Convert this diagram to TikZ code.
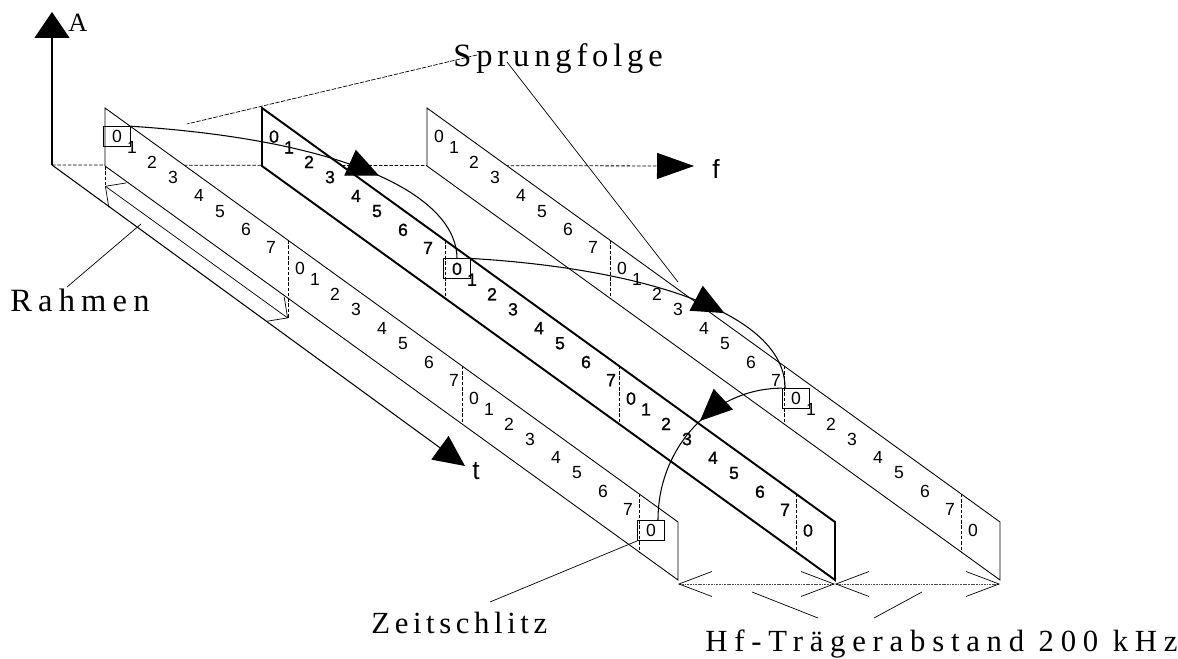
\documentclass[tikz,border=0pt]{standalone}
\usepackage{fontspec}
\setmainfont{Liberation Serif}
\newfontfamily\digitfont{Liberation Sans}
\newfontfamily\digitboldfont[FakeBold=1.2]{Liberation Sans}
\newcommand{\spacedat}[2]{\fontsize{#1}{20}\selectfont\addfontfeature{LetterSpace=#2}}
\usetikzlibrary{arrows.meta,calc,decorations.markings}

\tikzset{
	edge/.style={line width=0.5pt},
	edgebold/.style={line width=1.1pt},
	framesep/.style={line width=0.45pt, dash pattern=on 2pt off 1pt},
	digit/.style={font=\digitfont\fontsize{10}{12}\selectfont, inner sep=0pt},
	digitbold/.style={font=\digitboldfont\fontsize{10}{12}\selectfont, inner sep=0pt},
	slot/.style={draw, line width=0.5pt, inner sep=0pt, minimum width=0.54cm, minimum height=0.4cm},
	leader/.style={line width=0.4pt},
	axis/.style={line width=0.6pt},
	hop/.style={line width=0.6pt, postaction={decorate},
		decoration={markings, mark=at position #1 with {\arrow{Triangle[length=0.64cm,width=0.56cm]}}}},
	spaced/.style 2 args={font=\spacedat{#1}{#2}, inner sep=0pt, anchor=base west},
	barbs/.style={{Straight Barb[length=#1]}-{Straight Barb[length=#1]}},
	dimline/.style={leader, black!70, dash pattern=on 1pt off 0.5pt,
		{Straight Barb[length=0.66cm,width=0.5cm,black]}-{Straight Barb[length=0.66cm,width=0.5cm,black]}},
}

% one carrier strip: left x, name, edge style, digit style
\newcommand{\hopstrip}[4]{%
	\fill[white] (#1,108) -- ++(573,414) -- ++(0,58) -- (#1,166) -- cycle;
	\draw[#3] (#1,166) -- (#1,108) -- ++(573,414) -- ++(0,58) -- cycle;
	\foreach \fb/\fd [count=\fn] in {0/20,183/20,357/24}
		\foreach \du [count=\dn from 0] in {12,27,47,68,94,115,141,166}
			\node[#4] (#2-\fn-\dn) at (#1+\fb+\du, 108+0.7225*\fb+0.7225*\du+\fd) {\dn};
	\foreach \fb in {183,357,534}
		\draw[framesep] (#1+\fb, 108+0.7225*\fb) -- ++(0,58);
	\node[#4] (#2-4-0) at (#1+546, 530.5) {0};
	\coordinate (#2-end) at (#1+573, 584);
}

\begin{document}
\begin{tikzpicture}[x=0.02cm, y=-0.02cm]
			%%%%% START %%%%%
			\path[fill=white] (0,0) rectangle (1178,658);
			
			\coordinate (O) at (52,165);
			\coordinate (Atip) at (52,12);
			\coordinate (ftip) at (694,166);
			\coordinate (ttip) at (465,466);
			
			% axes
			\draw[framesep, -{Triangle[length=0.74cm,width=0.52cm]}] (O) -- (ftip);
			\draw[axis, -{Triangle[length=0.52cm,width=0.7cm]}] (O) -- (Atip);
			\draw[axis, -{Triangle[length=0.62cm,width=0.58cm]}] (O) -- (ttip);
			\node[font=\fontsize{15}{18}\selectfont, inner sep=0pt, anchor=base west] (lblA) at (68,32) {A};
			\node[font=\digitfont\fontsize{15}{18}\selectfont, inner sep=0pt, anchor=base west] (lblf) at (712,179) {f};
			\node[font=\digitfont\fontsize{15}{18}\selectfont, inner sep=0pt, anchor=base west] (lblt) at (472,480) {t};
			
			% strips
			\hopstrip{105}{s1}{edge}{digit}
			\hopstrip{262}{s2}{edgebold}{digitbold}
			\hopstrip{427}{s3}{edge}{digit}
			
			% time slots
			\node[slot] (slotA) at (s1-1-0) {};
			\node[slot] (slotB) at (s2-2-0) {};
			\node[slot] (slotC) at (s3-3-0) {};
			\node[slot] (slotD) at (s1-4-0) {};
			
			% hops
			\draw[hop=0.68] (slotA.north east) .. controls +(230,15) and +(0,-58) .. (slotB.north);
			\draw[hop=0.72] (slotB.north east) .. controls +(170,10) and +(0,-76) .. ($(slotC.north west)+(3,0)$);
			\draw[hop=0.45] (slotC.north west) .. controls +(-68,0) and +(0,-74) .. ($(slotD.north)+(7,0)$);
			
			% frame length
			\coordinate (rahmenL) at (105,186);
			\coordinate (rahmenR) at (288,318.2);
			\draw[framesep] (105,166) -- (rahmenL);
			\draw[framesep] (288,298.2) -- (rahmenR);
			\draw[leader, barbs=0.3cm] (rahmenL) -- (rahmenR);
			
			% carrier spacing
			\draw[dimline] (s1-end) -- (s2-end);
			\draw[dimline] (s2-end) -- (s3-end);
			\draw[leader] (752,592) -- (818,618);
			\draw[leader] (922,592) -- (874,618);
			
			% labels
			\node[spaced={18.5}{15}] (sprung) at (453,67) {Sprungfolge};
			\node[spaced={18.5}{19}] (rahmen) at (10,312) {Rahmen};
			\node[spaced={17.5}{15}] (zeit) at (371,634) {Zeitschlitz};
			\node[spaced={17.5}{22}] (abstand) at (705,652) {Hf-Trägerabstand 200 kHz};
			
			\coordinate (hopA) at (187,124);
			\coordinate (hopB) at (678,282);
			\coordinate (rahmenpt) at (141,224);
			\draw[leader, dash pattern=on 2.5pt off 0.8pt] ($(sprung.base west)+(24,-12)$) -- (hopA);
			\draw[leader] ($(sprung.base west)+(54,-5)$) -- (hopB);
			\draw[leader] ($(rahmen.base west)+(57,-25)$) -- (rahmenpt);
			\draw[leader] ($(zeit.base west)+(119,-32)$) -- (slotD.south west);
			
			%%%%% END %%%%%
\end{tikzpicture}
\end{document}
